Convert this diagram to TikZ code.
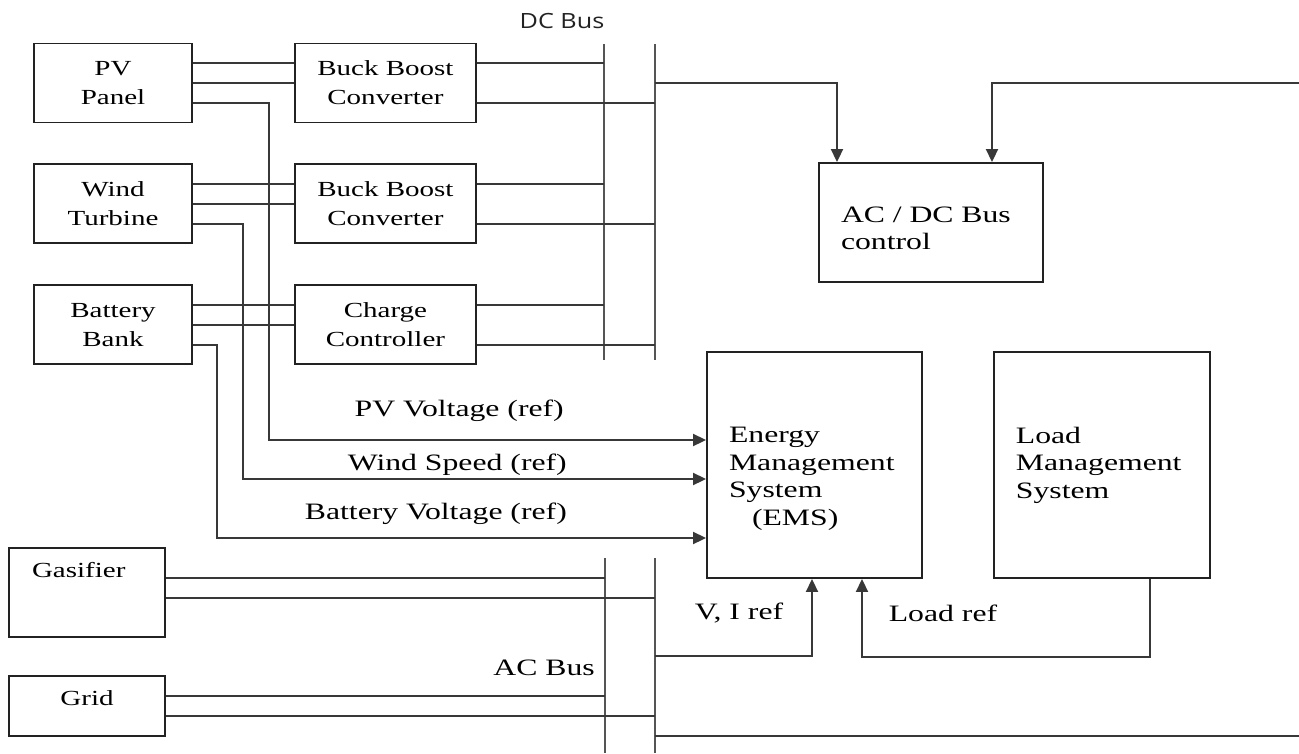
\documentclass[tikz,border=0pt]{standalone}
\usepackage{fontspec}
\setmainfont{Liberation Serif}[FakeStretch=1.35]
\newfontfamily\busfont{Open Sans}[FakeStretch=1.2]
\usetikzlibrary{arrows.meta,positioning}
\definecolor{boxgray}{HTML}{222222}
\definecolor{wiregray}{HTML}{383838}
\definecolor{busgray}{HTML}{555555}
\tikzset{
  unitbox/.style={
    draw=boxgray,
    line width=1.9pt,
    align=center,
    minimum width=158pt,
    minimum height=79pt,
    inner sep=0pt,
    font=\fontsize{21.5}{29}\selectfont
  },
  convbox/.style={
    unitbox,
    minimum width=181pt
  },
  srcbox/.style={
    unitbox,
    minimum width=156pt,
    minimum height=0pt,
    inner ysep=6pt,
    text height=23pt
  },
  ctrlbox/.style={
    draw=boxgray,
    line width=1.9pt,
    align=left,
    inner xsep=22pt,
    inner ysep=0pt,
    font=\fontsize{23.5}{27.5}\selectfont
  },
  siglabel/.style={
    inner sep=0pt,
    font=\fontsize{23.5}{27.5}\selectfont
  },
  wire/.style={
    line width=1.9pt,
    draw=wiregray
  },
  sigarrow/.style={
    wire,
    -{Triangle[length=13pt,width=12pt]}
  },
  busbar/.style={
    line width=2.6pt,
    draw=busgray
  }
}

\begin{document}
\begin{tikzpicture}[x=1pt, y=-1pt, node distance=40pt and 101pt]
    \useasboundingbox (0,0) rectangle (1299,753);

    % sources and converters
    \node[unitbox] (pv) at (113,83) {PV\\Panel};
    \node[convbox, right=of pv] (bb1) {Buck Boost\\Converter};
    \node[unitbox, below=of pv] (wind) {Wind\\Turbine};
    \node[convbox, right=of wind] (bb2) {Buck Boost\\Converter};
    \node[unitbox, below=of wind] (batt) {Battery\\Bank};
    \node[convbox, right=of batt] (cc) {Charge\\Controller};

    \node[srcbox, align=left, text width=110pt, inner xsep=23pt, text depth=54pt] (gas) at (87,592.5) {Gasifier};
    \node[srcbox, text depth=25pt] (grid) at (87,706) {Grid};

    % control blocks
    \node[ctrlbox, text width=180pt, minimum height=119pt] (acdc) at (931,222.5) {\strut\\[-19.5pt]AC / DC Bus\\control};
    \node[ctrlbox, text width=171pt, minimum height=226pt] (ems) at (814.5,465) {\strut\\[-4pt]Energy\\Management\\System\\\hspace*{23pt}(EMS)};
    \node[ctrlbox, text width=172pt, minimum height=226pt, right=70pt of ems] (lms) {Load\\Management\\System};

    % bus bars
    \coordinate (dcL) at (604,44);
    \coordinate (dcR) at (655,44);
    \coordinate (acL) at (605,558);
    \coordinate (acR) at (655,558);
    \draw[busbar] (dcL) -- ++(0,316);
    \draw[busbar] (dcR) -- ++(0,316);
    \draw[busbar] (acL) -- ++(0,195);
    \draw[busbar] (acR) -- ++(0,195);
    \node[inner sep=0pt, text=boxgray, font=\busfont\fontsize{21}{24}\selectfont] (dclab) at (562,21) {DC Bus};
    \node[siglabel, anchor=east] (aclab) at (595,668) {AC Bus};

    % power wiring
    \foreach \src/\dst in {pv/bb1, wind/bb2, batt/cc} {
        \draw[wire] ([yshift=20pt]\src.east) -- ([yshift=20pt]\dst.west);
        \draw[wire] (\src.east) -- (\dst.west);
        \draw[wire] ([yshift=20pt]\dst.east) -- ([yshift=20pt]\dst.east -| dcL);
        \draw[wire] ([yshift=-20pt]\dst.east) -- ([yshift=-20pt]\dst.east -| dcR);
    }
    \draw[wire] ([yshift=14.5pt]gas.east) -- ([yshift=14.5pt]gas.east -| acL);
    \draw[wire] ([yshift=-5.5pt]gas.east) -- ([yshift=-5.5pt]gas.east -| acR);
    \draw[wire] ([yshift=10pt]grid.east) -- ([yshift=10pt]grid.east -| acL);
    \draw[wire] ([yshift=-10pt]grid.east) -- ([yshift=-10pt]grid.east -| acR);

    % measurements to EMS
    \draw[sigarrow] ([yshift=-20pt]pv.east) -- ++(76,0) |- ([yshift=25pt]ems.west);
    \draw[sigarrow] ([yshift=-20pt]wind.east) -- ++(50,0) |- ([yshift=-14pt]ems.west);
    \draw[sigarrow] ([yshift=-20pt]batt.east) -- ++(24,0) |- ([yshift=-73pt]ems.west);
    \node[siglabel, anchor=east] (pvlab) at (564,411) {PV Voltage (ref)};
    \node[siglabel, anchor=east] (windlab) at (567,465) {Wind Speed (ref)};
    \node[siglabel, anchor=east] (battlab) at (567,514) {Battery Voltage (ref)};

    % bus control feeds
    \coordinate (dcfeed) at (655,83);
    \coordinate (edgefeed) at (1299,83);
    \draw[sigarrow] (dcfeed) -| ([xshift=-94pt]acdc.north);
    \draw[sigarrow] (edgefeed) -| ([xshift=61pt]acdc.north);

    % references into EMS
    \coordinate (vitap) at (655,656);
    \draw[sigarrow] (vitap) -| ([xshift=-2.5pt]ems.south);
    \draw[sigarrow] ([xshift=48pt]lms.south) -- ++(0,78) -| ([xshift=47.5pt]ems.south);
    \node[siglabel] (vilab) at (739,613) {V, I ref};
    \node[siglabel] (loadlab) at (943,613) {Load ref};

    \coordinate (edgeout) at (1299,736);
    \draw[wire] (acR |- edgeout) -- (edgeout);
\end{tikzpicture}
\end{document}
